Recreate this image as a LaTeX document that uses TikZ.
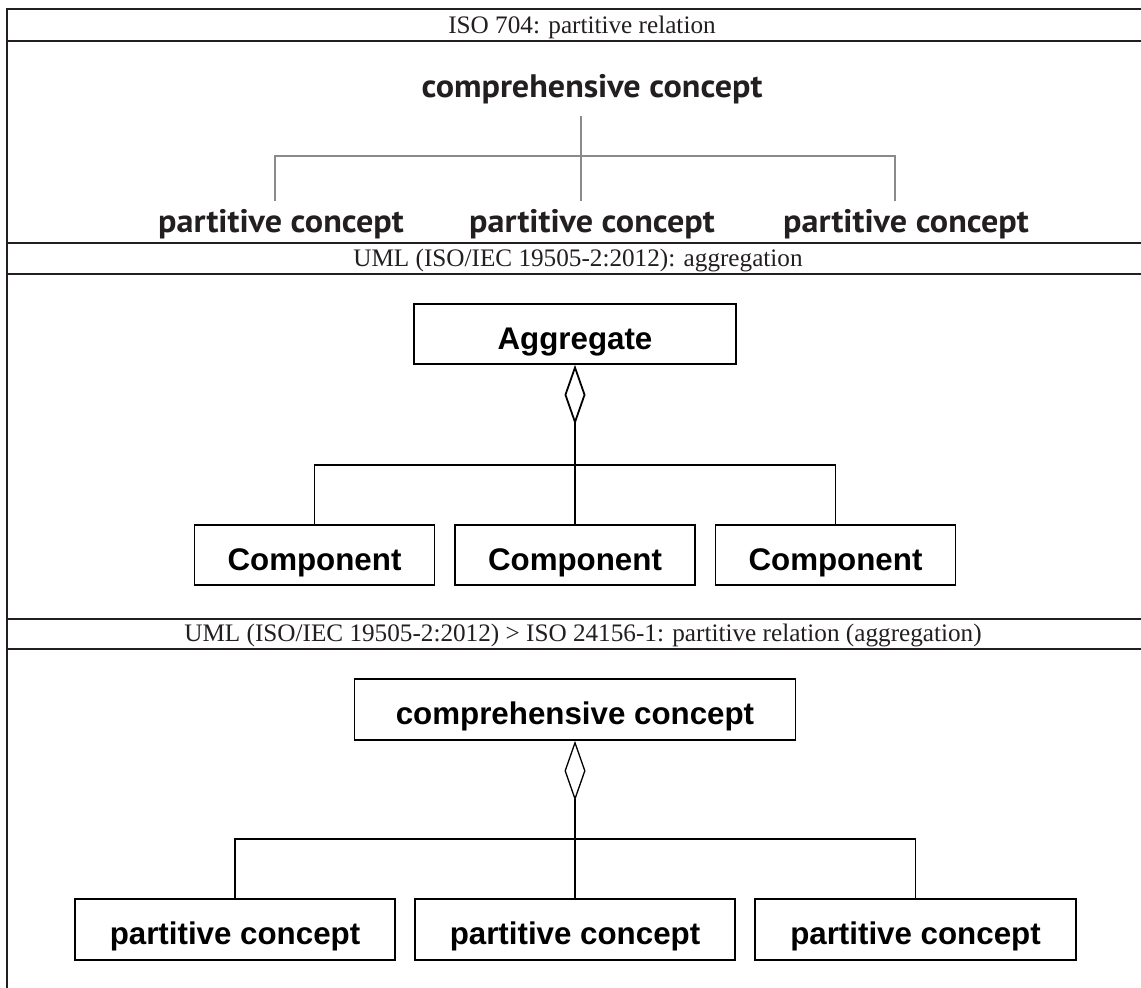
\documentclass[tikz,border=0pt]{standalone}
\usepackage{fontspec}
\setmainfont{Liberation Serif}
\newfontfamily\arialf{Liberation Sans}
\newfontfamily\myriadf[FakeStretch=1.05]{PT Sans}
\usetikzlibrary{arrows.meta}
\definecolor{framecol}{HTML}{231F20}
\definecolor{treegray}{HTML}{8A8A8A}
\begin{document}
\begin{tikzpicture}[x=1pt,y=-1pt,
  frameline/.style={line width=1.8pt, draw=framecol},
  titletext/.style={font=\fontsize{25.2}{30}\selectfont, text=framecol, inner sep=0, anchor=base},
  isotext/.style={font=\myriadf\bfseries\fontsize{32.5}{38}\selectfont, text=framecol, inner sep=0, anchor=base},
  treeline/.style={line width=1.2pt, draw=treegray},
  umlbox/.style={draw=black, line width=1.6pt, inner sep=0, font=\arialf\bfseries\fontsize{31.3}{36}\selectfont, text height=30pt, text depth=0pt},
  umlline/.style={line width=1.5pt, draw=black},
  aggline/.style={umlline, {Diamond[open, length=60pt, width=21pt]}-}
]
\useasboundingbox (0,0) rectangle (1141,988);
\fill[white] (0,0) rectangle (1141,988);

% frame
\draw[frameline] (7,988) -- (7,9) -- (1142,9);
\draw[frameline] (7,41) -- (1142,41);
\draw[frameline] (7,243) -- (1142,243);
\draw[frameline] (7,274) -- (1142,274);
\draw[frameline] (7,619) -- (1142,619);
\draw[frameline] (7,649) -- (1142,649);

% titles
\node[titletext] (t1) at (582,33.5) {ISO 704: partitive relation};
\node[titletext] (t2) at (578,266.5) {UML (ISO/IEC 19505-2:2012): aggregation};
\node[titletext] (t3) at (583,641.5) {UML (ISO/IEC 19505-2:2012) > ISO 24156-1: partitive relation (aggregation)};

% section 1: ISO 704
\node[isotext] (cc1) at (592,97) {comprehensive concept};
\node[isotext] (p1a) at (281,232) {partitive concept};
\node[isotext] (p1b) at (592,232) {partitive concept};
\node[isotext] (p1c) at (906,232) {partitive concept};
\coordinate (m1top) at (581,116);
\coordinate (m1bot) at (581,201);
\coordinate (l1bot) at (275,201);
\coordinate (r1bot) at (895,201);
\coordinate (j1) at (581,156);
\draw[treeline] (m1top) -- (m1bot);
\draw[treeline] (l1bot) |- (j1) -| (r1bot);

% section 2: UML aggregation
\node[umlbox, minimum width=322pt, minimum height=60pt] (agg) at (575,334) {Aggregate};
\node[umlbox, minimum width=240pt, minimum height=60pt] (c1) at (314.5,555) {Component};
\node[umlbox, minimum width=240pt, minimum height=60pt] (c2) at (575,555) {Component};
\node[umlbox, minimum width=240pt, minimum height=60pt] (c3) at (835.5,555) {Component};
\coordinate (j2) at (575,465);
\draw[aggline, line width=1.8pt] (agg.south) -- (c2.north);
\draw[umlline] (c1.north) |- (j2) -| (c3.north);

% section 3: ISO 24156-1
\node[umlbox, minimum width=441pt, minimum height=61pt] (cc3) at (575,709.5) {comprehensive concept};
\node[umlbox, minimum width=320pt, minimum height=61pt] (p3a) at (235,929.5) {partitive concept};
\node[umlbox, minimum width=320pt, minimum height=61pt] (p3b) at (575,929.5) {partitive concept};
\node[umlbox, minimum width=321pt, minimum height=61pt] (p3c) at (915.5,929.5) {partitive concept};
\coordinate (j3) at (575,839);
\draw[aggline, line width=1.3pt] (cc3.south) -- (p3b.north);
\draw[umlline, line width=1.3pt] (p3a.north) |- (j3) -| (p3c.north);
\end{tikzpicture}
\end{document}
